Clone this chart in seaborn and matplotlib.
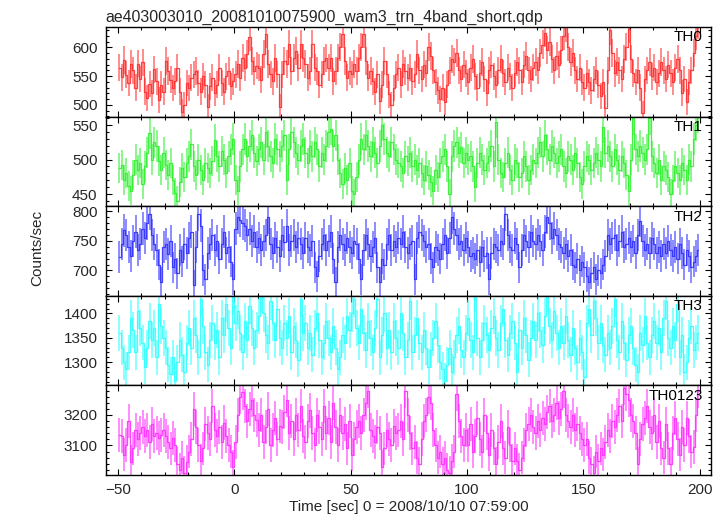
import numpy as np
import pandas as pd
import matplotlib
matplotlib.use("Agg")
import matplotlib.pyplot as plt
import seaborn as sns
from matplotlib.ticker import MultipleLocator

# ---------------------------------------------------
# STYLE
# ---------------------------------------------------

sns.set_style("ticks")
plt.rcParams["font.family"] = ["Liberation Sans", "DejaVu Sans"]

# ---------------------------------------------------
# DATA (1 s bins)
# ---------------------------------------------------

time_sec = np.arange(-50, 200) + 0.5

th0 = [
    565, 548, 578, 552, 538, 571, 560, 530, 572, 545,
    574, 523, 512, 536, 521, 562, 541, 509, 535, 523,
    576, 559, 544, 529, 541, 565, 523, 488, 500, 538,
    529, 547, 553, 559, 538, 523, 550, 535, 497, 532,
    547, 521, 535, 565, 538, 523, 550, 559, 532, 541,
    553, 571, 547, 582, 565, 588, 618, 576, 559, 568,
    565, 544, 588, 624, 571, 553, 541, 582, 553, 496,
    553, 576, 571, 606, 559, 582, 594, 565, 606, 582,
    571, 547, 559, 606, 565, 559, 535, 553, 576, 582,
    565, 582, 541, 559, 582, 600, 624, 576, 547, 559,
    553, 571, 559, 582, 600, 624, 576, 547, 559, 541,
    523, 553, 506, 535, 576, 553, 518, 500, 529, 553,
    565, 535, 571, 559, 547, 565, 541, 553, 588, 560,
    545, 570, 555, 600, 585, 560, 540, 525, 510, 530,
    505, 535, 560, 580, 575, 590, 560, 545, 570, 555,
    540, 565, 580, 550, 530, 555, 575, 545, 520, 560,
    570, 550, 535, 560, 580, 555, 540, 565, 550, 530,
    555, 575, 560, 540, 570, 585, 560, 545, 565, 575,
    560, 590, 605, 625, 595, 610, 580, 560, 585, 570,
    595, 620, 635, 600, 575, 590, 560, 545, 565, 540,
    530, 555, 540, 525, 545, 560, 535, 515, 540, 495,
    560, 630, 590, 555, 575, 560, 545, 580, 600, 632,
    580, 555, 540, 560, 530, 485, 545, 560, 575, 550,
    565, 540, 555, 575, 560, 545, 570, 555, 540, 565,
    580, 560, 520, 545, 505, 540, 560, 590, 620, 640,
]

th1 = [
    488, 492, 470, 480, 462, 455, 478, 500, 485, 495,
    465, 490, 510, 538, 500, 525, 520, 498, 485, 510,
    492, 478, 495, 470, 452, 440, 468, 488, 475, 495,
    505, 522, 490, 478, 500, 485, 470, 495, 488, 480,
    498, 528, 505, 490, 512, 500, 480, 505, 515, 530,
    470, 455, 490, 515, 530, 505, 520, 535, 510, 498,
    515, 525, 500, 540, 520, 505, 495, 530, 515, 505,
    520, 535, 470, 515, 540, 525, 510, 500, 520, 530,
    510, 495, 520, 505, 525, 515, 490, 510, 500, 520,
    540, 545, 520, 535, 500, 480, 465, 488, 470, 495,
    455, 450, 475, 500, 530, 515, 535, 520, 505, 525,
    510, 495, 520, 550, 530, 510, 505, 525, 515, 500,
    495, 490, 480, 505, 498, 510, 490, 500, 485, 495,
    480, 470, 490, 478, 468, 455, 485, 475, 495, 505,
    515, 490, 450, 505, 520, 525, 510, 518, 495, 510,
    500, 505, 490, 460, 495, 510, 500, 485, 495, 505,
    520, 490, 555, 500, 480, 475, 495, 510, 485, 470,
    500, 495, 475, 480, 505, 490, 470, 485, 500, 495,
    510, 525, 505, 535, 515, 500, 520, 510, 495, 505,
    515, 490, 480, 505, 500, 485, 510, 495, 475, 465,
    490, 505, 500, 485, 495, 510, 500, 490, 548, 510,
    520, 505, 490, 515, 500, 485, 505, 495, 478, 455,
    500, 560, 515, 505, 520, 510, 500, 515, 560, 505,
    495, 480, 500, 470, 490, 485, 475, 450, 470, 490,
    480, 470, 495, 485, 470, 500, 490, 530, 550, 562,
]

th2 = [
    722, 745, 768, 760, 740, 725, 750, 765, 735, 745,
    770, 755, 780, 796, 760, 745, 735, 710, 680, 740,
    745, 728, 750, 705, 720, 695, 735, 715, 745, 730,
    755, 765, 675, 740, 795, 775, 700, 685, 730, 745,
    760, 735, 750, 720, 745, 765, 730, 740, 715, 685,
    770, 790, 785, 780, 775, 760, 770, 750, 765, 740,
    755, 735, 750, 760, 790, 745, 730, 755, 740, 725,
    760, 748, 775, 735, 750, 760, 740, 755, 745, 730,
    755, 740, 735, 750, 705, 690, 725, 745, 760, 735,
    750, 765, 720, 680, 740, 760, 745, 735, 755, 740,
    730, 750, 745, 720, 685, 735, 760, 745, 725, 740,
    755, 705, 680, 720, 710, 745, 760, 735, 750, 740,
    755, 745, 765, 740, 730, 745, 750, 685, 755, 765,
    760, 750, 740, 745, 720, 705, 740, 735, 720, 745,
    760, 730, 755, 790, 770, 760, 745, 750, 735, 755,
    740, 725, 730, 720, 735, 715, 740, 725, 730, 685,
    730, 745, 740, 735, 750, 745, 795, 760, 740, 735,
    755, 745, 705, 735, 760, 750, 740, 765, 750, 745,
    760, 750, 735, 765, 790, 780, 755, 770, 760, 745,
    740, 730, 745, 725, 735, 710, 705, 720, 700, 715,
    705, 690, 680, 695, 705, 685, 700, 695, 710, 725,
    760, 745, 755, 760, 735, 750, 765, 740, 745, 755,
    740, 750, 730, 760, 784, 750, 735, 745, 730, 755,
    745, 730, 740, 725, 745, 730, 750, 735, 725, 740,
    720, 745, 730, 710, 735, 725, 705, 715, 725, 735,
]

th3 = [
    1360, 1330, 1300, 1285, 1320, 1390, 1365, 1320, 1405, 1370,
    1340, 1290, 1330, 1385, 1345, 1370, 1310, 1420, 1375, 1350,
    1330, 1295, 1275, 1310, 1262, 1300, 1345, 1315, 1280, 1340,
    1370, 1330, 1390, 1355, 1310, 1430, 1375, 1320, 1295, 1345,
    1380, 1340, 1365, 1310, 1390, 1355, 1420, 1370, 1330, 1435,
    1380, 1405, 1360, 1320, 1385, 1345, 1415, 1370, 1330, 1365,
    1395, 1440, 1400, 1355, 1340, 1425, 1380, 1345, 1410, 1350,
    1330, 1380, 1350, 1395, 1320, 1375, 1345, 1305, 1430, 1360,
    1380, 1330, 1360, 1315, 1370, 1400, 1345, 1310, 1340, 1385,
    1350, 1320, 1375, 1330, 1285, 1310, 1355, 1340, 1395, 1365,
    1400, 1430, 1370, 1340, 1410, 1360, 1325, 1385, 1350, 1320,
    1370, 1430, 1310, 1355, 1400, 1330, 1365, 1320, 1385, 1350,
    1330, 1400, 1360, 1310, 1345, 1425, 1320, 1355, 1390, 1340,
    1320, 1365, 1330, 1290, 1325, 1350, 1385, 1335, 1300, 1285,
    1262, 1295, 1330, 1280, 1310, 1355, 1375, 1325, 1310, 1360,
    1390, 1345, 1320, 1440, 1350, 1310, 1345, 1380, 1355, 1325,
    1370, 1395, 1350, 1325, 1380, 1410, 1345, 1315, 1360, 1385,
    1340, 1280, 1365, 1330, 1390, 1355, 1305, 1350, 1385, 1345,
    1400, 1365, 1335, 1395, 1440, 1375, 1345, 1405, 1360, 1330,
    1375, 1340, 1395, 1345, 1315, 1370, 1330, 1300, 1350, 1320,
    1270, 1380, 1410, 1355, 1425, 1390, 1340, 1380, 1335, 1315,
    1360, 1330, 1375, 1430, 1345, 1320, 1385, 1340, 1305, 1355,
    1375, 1330, 1295, 1280, 1360, 1335, 1395, 1340, 1310, 1355,
    1385, 1340, 1370, 1320, 1390, 1425, 1350, 1330, 1375, 1345,
    1420, 1310, 1355, 1280, 1300, 1350, 1375, 1325, 1340, 1360,
]

th0123 = [
    3135, 3130, 3070, 3100, 3180, 3045, 3090, 3150, 3120, 3140,
    3160, 3130, 3150, 3110, 3170, 3130, 3140, 3125, 3135, 3150,
    3130, 3110, 3090, 3125, 3100, 3040, 3020, 3060, 3010, 3045,
    3080, 3120, 3219, 3160, 3100, 3050, 3090, 3170, 3140, 3120,
    3230, 3150, 3130, 3160, 3110, 3175, 3130, 3100, 3080, 3030,
    3110, 3200, 3260, 3275, 3230, 3180, 3220, 3250, 3200, 3185,
    3150, 3200, 3110, 3160, 3220, 3100, 3150, 3190, 3120, 3165,
    3160, 3210, 3250, 3140, 3180, 3120, 3200, 3150, 3230, 3130,
    3110, 3180, 3215, 3140, 3100, 3200, 3160, 3120, 3230, 3140,
    3190, 3110, 3240, 3160, 3100, 3200, 3140, 3170, 3090, 3180,
    3070, 3120, 3160, 3180, 3140, 3200, 3240, 3280, 3150, 3130,
    3110, 3160, 3140, 3030, 3090, 3150, 3120, 3100, 3165, 3140,
    3150, 3180, 3120, 3280, 3200, 3140, 3090, 3110, 3060, 3040,
    3120, 3180, 3200, 3260, 3240, 3150, 3100, 3060, 3080, 3040,
    3060, 3020, 3010, 3050, 3080, 3270, 3180, 3130, 3100, 3150,
    3100, 3170, 3080, 3130, 3190, 3120, 3080, 3200, 3140, 3070,
    3150, 3090, 3040, 3110, 3180, 3090, 3060, 3160, 3100, 3050,
    3090, 3050, 3020, 3060, 3100, 3150, 3170, 3200, 3160, 3140,
    3180, 3150, 3190, 3170, 3210, 3230, 3180, 3200, 3240, 3190,
    3220, 3280, 3200, 3180, 3160, 3200, 3150, 3170, 3140, 3120,
    3100, 3120, 3060, 3040, 3010, 3080, 3050, 3090, 3070, 3110,
    3150, 3130, 3180, 3160, 3200, 3230, 3180, 3290, 3270, 3250,
    3200, 3180, 3140, 3040, 3120, 3170, 3190, 3230, 3160, 3140,
    3200, 3110, 3180, 3090, 3060, 3170, 3090, 3040, 3140, 3190,
    3120, 3070, 3160, 3100, 3190, 3130, 3080, 3095, 3200, 3280,
]

bands = ["TH0", "TH1", "TH2", "TH3", "TH0123"]
series = [th0, th1, th2, th3, th0123]

# ---------------------------------------------------
# PANEL SETTINGS
# ---------------------------------------------------

colors = ["#ff3030", "#30f030", "#3030ff", "#30ffff", "#ff30ff"]
ylims = [(479, 635), (432, 562), (657, 808), (1252, 1436), (3003, 3297)]
ymajor = [50, 50, 50, 50, 100]
yminor = [10, 10, 10, 10, 20]

fig, axes = plt.subplots(5, 1, figsize=(7.25, 5.16), dpi=100, sharex=True)
fig.subplots_adjust(left=0.146, right=0.981, top=0.947, bottom=0.0795, hspace=0)

for i, ax in enumerate(axes):

    df = pd.DataFrame({"time": time_sec, "rate": series[i]})
    df["err"] = np.sqrt(df["rate"])  # poisson error for 1 s bins

    ax.errorbar(
        df["time"], df["rate"], yerr=df["err"],
        fmt="none", ecolor=colors[i], elinewidth=1.3, alpha=0.6
    )

    sns.lineplot(
        data=df, x="time", y="rate",
        estimator=None, drawstyle="steps-mid",
        color=colors[i], linewidth=0.9, alpha=0.9, ax=ax
    )

    ax.set_xlim(-55.3, 205)
    ax.set_ylim(*ylims[i])
    ax.set_xlabel("")
    ax.set_ylabel("")

    ax.xaxis.set_major_locator(MultipleLocator(50))
    ax.xaxis.set_minor_locator(MultipleLocator(10))
    ax.yaxis.set_major_locator(MultipleLocator(ymajor[i]))
    ax.yaxis.set_minor_locator(MultipleLocator(yminor[i]))

    ax.tick_params(which="both", direction="in", top=True, right=True,
                   labelsize=11, color="black", width=0.8)
    ax.tick_params(which="major", length=4.5)
    ax.tick_params(which="minor", length=2.4)
    ax.tick_params(axis="y", pad=6)
    ax.tick_params(axis="x", pad=6)

    for spine in ax.spines.values():
        spine.set_color("black")
        spine.set_linewidth(1.0)

    ax.text(0.986, 0.965, bands[i], transform=ax.transAxes,
            ha="right", va="top", fontsize=11, color="black")

axes[0].set_title("ae403003010_20081010075900_wam3_trn_4band_short.qdp",
                  loc="left", fontsize=11.4, pad=4)

fig.text(0.052, 0.52, "Counts/sec", rotation=90, ha="center", va="center",
         fontsize=11)
fig.text(0.564, 0.018, "Time [sec] 0 = 2008/10/10 07:59:00",
         ha="center", va="center", fontsize=11)

plt.savefig("out.png", dpi=100)
plt.close()
